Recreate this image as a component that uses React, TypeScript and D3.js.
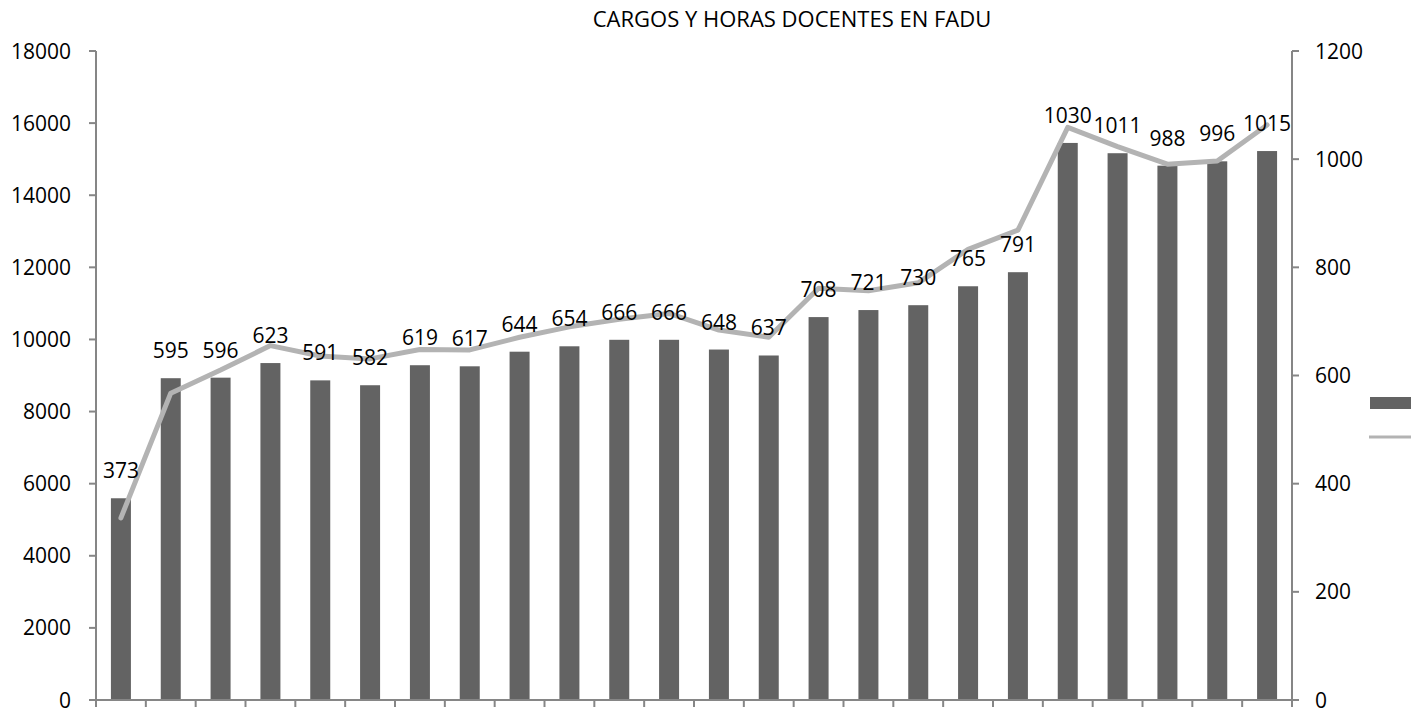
import React from "react";
import * as d3 from "d3";

const categories: string[] = [
  "1", "2", "3", "4", "5", "6", "7", "8", "9", "10", "11", "12",
  "13", "14", "15", "16", "17", "18", "19", "20", "21", "22", "23", "24",
];
// Cargos (bars, right axis)
const cargos: number[] = [
  373, 595, 596, 623, 591, 582, 619, 617, 644, 654, 666, 666,
  648, 637, 708, 721, 730, 765, 791, 1030, 1011, 988, 996, 1015,
];
// Horas (line, left axis)
const horas: number[] = [
  5050, 8510, 9150, 9830, 9540, 9460, 9720, 9710, 10060, 10350, 10560, 10720,
  10260, 10060, 11420, 11350, 11570, 12500, 13030, 15880, 15350, 14860, 14950, 15950,
];
const leftTicks: number[] = [0, 2000, 4000, 6000, 8000, 10000, 12000, 14000, 16000, 18000];
const rightTicks: number[] = [0, 200, 400, 600, 800, 1000, 1200];
const title = "CARGOS Y HORAS DOCENTES EN FADU";

const W = 1411;
const H = 712;
const left = 96;
const right = 1292;
const top = 51;
const bottom = 700;
const FONT = "'Open Sans', sans-serif";
const AXIS = "#868686";

export default function App() {
  const x = d3.scaleBand<string>().domain(categories).range([left, right]).paddingInner(0).paddingOuter(0);
  const yL = d3.scaleLinear().domain([0, 18000]).range([bottom, top]);
  const yR = d3.scaleLinear().domain([0, 1200]).range([bottom, top]);
  const barW = 20;
  const cx = (c: string) => (x(c) as number) + x.bandwidth() / 2;
  const line = d3
    .line<number>()
    .x((_, i) => cx(categories[i]))
    .y((d) => yL(d));
  const boundaries = d3.range(categories.length + 1).map((i) => left + i * x.bandwidth());

  return (
    <svg width={W} height={H} style={{ position: "absolute", left: 0, top: 0, background: "#fff" }} fontFamily={FONT}>
      <text x={792} y={27} textAnchor="middle" fontSize={22} fill="#000">{title}</text>

      {/* bars */}
      {categories.map((c, i) => (
        <rect key={"b" + i} x={cx(c) - barW / 2} y={yR(cargos[i])} width={barW} height={bottom - yR(cargos[i])} fill="#636363" />
      ))}

      {/* line */}
      <path d={line(horas) || ""} fill="none" stroke="#b3b3b3" strokeWidth={5} strokeLinejoin="round" strokeLinecap="round" />

      {/* bar labels */}
      {categories.map((c, i) => (
        <text key={"l" + i} x={cx(c)} y={yR(cargos[i]) - 20} textAnchor="middle" fontSize={21} fill="#000">{cargos[i]}</text>
      ))}

      {/* left axis */}
      <line x1={left} x2={left} y1={top} y2={bottom} stroke={AXIS} strokeWidth={2} />
      {leftTicks.map((t) => (
        <g key={"lt" + t}>
          <line x1={left - 7} x2={left} y1={yL(t)} y2={yL(t)} stroke={AXIS} strokeWidth={2} />
          <text x={71} y={yL(t)} dy="0.36em" textAnchor="end" fontSize={21} fill="#000">{t}</text>
        </g>
      ))}

      {/* right axis */}
      <line x1={right} x2={right} y1={top} y2={bottom} stroke={AXIS} strokeWidth={2} />
      {rightTicks.map((t) => (
        <g key={"rt" + t}>
          <line x1={right} x2={right + 7} y1={yR(t)} y2={yR(t)} stroke={AXIS} strokeWidth={2} />
          <text x={1315} y={yR(t)} dy="0.36em" textAnchor="start" fontSize={21} fill="#000">{t}</text>
        </g>
      ))}

      {/* bottom axis */}
      <line x1={left - 1} x2={right + 1} y1={bottom} y2={bottom} stroke={AXIS} strokeWidth={2} />
      {boundaries.map((bx, i) => (
        <line key={"bt" + i} x1={bx} x2={bx} y1={bottom} y2={bottom + 7} stroke={AXIS} strokeWidth={2} />
      ))}

      {/* legend (text outside visible area) */}
      <rect x={1370} y={397} width={41} height={12} fill="#636363" />
      <line x1={1369} x2={1411} y1={437} y2={437} stroke="#b3b3b3" strokeWidth={3} />
    </svg>
  );
}
